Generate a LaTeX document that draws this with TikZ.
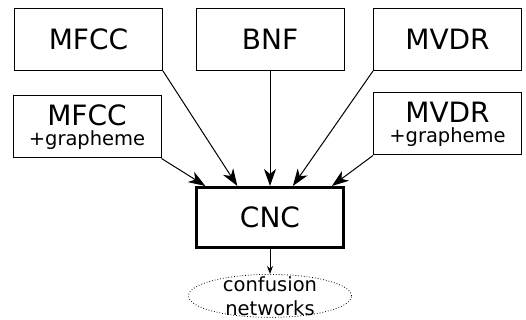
\documentclass[tikz,border=0pt]{standalone}
\usepackage{fontspec}
\setmainfont{DejaVu Sans}
\usepackage{tikz}
\usetikzlibrary{shapes.geometric, positioning, arrows.meta}
\tikzset{
feature/.style={shape=rectangle, draw, line width=1pt, minimum width=148pt, minimum height=62pt, inner sep=0, font=\fontsize{28}{28}\selectfont},
graphfeat/.style={feature, align=center, font=\fontsize{28}{20}\selectfont},
combiner/.style={feature, line width=3pt, minimum width=147pt, minimum height=60pt},
lattice/.style={shape=ellipse, draw, dotted, line width=0.8pt, minimum width=163pt, minimum height=43pt, inner sep=0}}
\begin{document}
\begin{tikzpicture}[x=1pt, y=-1pt, >={Stealth[length=17pt, width=12pt, inset=5pt]}]
\useasboundingbox (0,0) rectangle (526,320);
\node [feature] at (88.5, 39.5) (mfcc) {MFCC};
\node [feature] at (270, 39.5) (bnf) {BNF};
\node [feature] at (447.5, 39.5) (mvdr) {MVDR};
\node [graphfeat] at (87, 127) (mfcc-g) {MFCC\\{\fontsize{19.5}{20}\selectfont +grapheme}};
\node [graphfeat] at (447.5, 124) (mvdr-g) {MVDR\\{\fontsize{19.5}{20}\selectfont +grapheme}};
\node [combiner] at (270, 217.5) (cnc) {CNC};
\node [lattice, below=25pt of cnc, label={[align=center, font=\fontsize{19.5}{24}\selectfont]center:confusion\\networks}] (cn) {};
\foreach \src/\ang in {mfcc-g.south east/154, mfcc.south east/136, bnf.south/90, mvdr.south west/54, mvdr-g.south west/27}
   \draw [->, line width=1pt] (\src) -- (cnc.\ang);
\draw [-{Stealth[length=8pt, width=6pt]}, line width=1pt] (cnc) -- (cn);
\end{tikzpicture}
\end{document}
